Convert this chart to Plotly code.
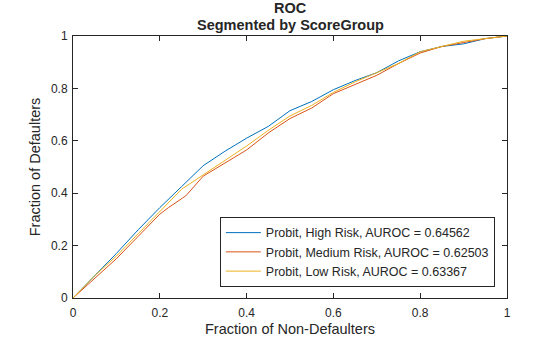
import plotly.graph_objects as go

fpr_high = [0, 0.05, 0.1, 0.15, 0.2, 0.25, 0.3, 0.35, 0.4, 0.45, 0.5, 0.55, 0.6, 0.65, 0.7, 0.75, 0.8, 0.85, 0.9, 0.95, 1.0]
tpr_high = [0, 0.085, 0.17, 0.26, 0.345, 0.425, 0.505, 0.56, 0.61, 0.655, 0.715, 0.75, 0.795, 0.83, 0.86, 0.905, 0.94, 0.96, 0.97, 0.99, 1.0]

fpr_med = [0, 0.05, 0.1, 0.15, 0.2, 0.22, 0.26, 0.3, 0.35, 0.4, 0.45, 0.5, 0.55, 0.6, 0.65, 0.7, 0.75, 0.8, 0.85, 0.9, 0.95, 1.0]
tpr_med = [0, 0.075, 0.15, 0.235, 0.32, 0.345, 0.39, 0.465, 0.515, 0.565, 0.63, 0.685, 0.725, 0.78, 0.815, 0.85, 0.895, 0.935, 0.96, 0.975, 0.99, 1.0]

fpr_low = [0, 0.05, 0.1, 0.15, 0.2, 0.25, 0.3, 0.35, 0.4, 0.45, 0.5, 0.55, 0.6, 0.65, 0.7, 0.75, 0.8, 0.85, 0.9, 0.95, 1.0]
tpr_low = [0, 0.085, 0.16, 0.245, 0.33, 0.415, 0.47, 0.525, 0.58, 0.64, 0.695, 0.735, 0.785, 0.825, 0.86, 0.895, 0.94, 0.96, 0.98, 0.99, 1.0]

names = ["Probit, High Risk, AUROC = 0.64562",
         "Probit, Medium Risk, AUROC = 0.62503",
         "Probit, Low Risk, AUROC = 0.63367"]
colors = ["#0072BD", "#D95319", "#EDB120"]

title_lines = ["ROC", "Segmented by ScoreGroup"]

tick_vals = [0, 0.2, 0.4, 0.6, 0.8, 1]
tick_text = ["0", "0.2", "0.4", "0.6", "0.8", "1"]

FONT = "Liberation Sans, Arial, sans-serif"
INK = "#262626"

fig = go.Figure()
for xs, ys, nm, c in zip([fpr_high, fpr_med, fpr_low], [tpr_high, tpr_med, tpr_low], names, colors):
    fig.add_trace(go.Scatter(x=xs, y=ys, mode="lines", name=nm,
                             line=dict(color=c, width=1)))

axis_common = dict(range=[0, 1], showgrid=False, zeroline=False, showline=True,
                   linecolor=INK, linewidth=1, mirror="ticks", ticks="inside",
                   ticklen=5, tickcolor=INK, tickvals=tick_vals, ticktext=tick_text,
                   automargin=False,
                   tickfont=dict(family=FONT, size=12, color=INK))

fig.update_layout(
    width=560, height=337,
    margin=dict(l=73, r=53, t=36, b=39),
    paper_bgcolor="white", plot_bgcolor="white",
    font=dict(family=FONT, color=INK),
    xaxis=dict(axis_common, ticklabelstandoff=4,
               title=dict(text="Fraction of Non-Defaulters", standoff=4,
                          font=dict(size=14.5))),
    yaxis=dict(axis_common, ticklabelstandoff=2,
               title=dict(text="Fraction of Defaulters", standoff=6,
                          font=dict(size=14.5))),
    legend=dict(x=0.972, y=0.042, xanchor="right", yanchor="bottom",
                bgcolor="white", bordercolor=INK, borderwidth=1,
                font=dict(size=12.5, color=INK), tracegroupgap=0,
                itemwidth=35),
    showlegend=True,
)

for txt, ypx in zip(title_lines, [8, 25]):
    fig.add_annotation(text="<b>%s</b>" % txt, xref="paper", yref="paper",
                       x=0.5, y=(298 - ypx) / 262.0, xanchor="center", yanchor="middle",
                       showarrow=False, font=dict(size=14.5, color=INK, family=FONT))

fig.write_html("out.html")
